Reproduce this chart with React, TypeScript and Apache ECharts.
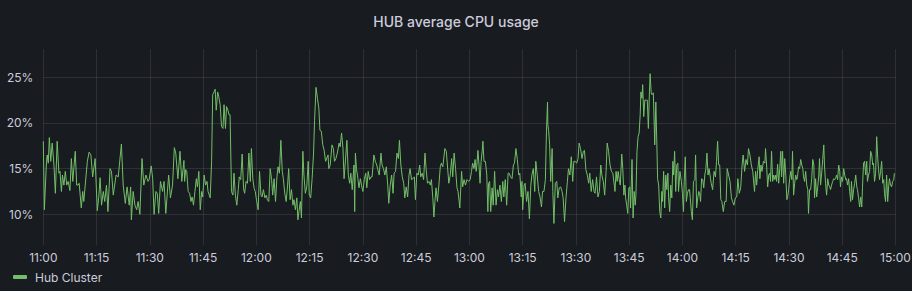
import React, { useEffect, useRef } from "react";
import * as echarts from "echarts";

const titleText = "HUB average CPU usage";
const seriesName = "Hub Cluster";
const timeLabels = ["11:00","11:15","11:30","11:45","12:00","12:15","12:30","12:45","13:00","13:15","13:30","13:45","14:00","14:15","14:30","14:45","15:00"];
const yTicks = [10, 15, 20, 25];

// [minutes after 11:00, CPU %]
const seg1100: number[][] = [[0,18.0],[0.3,10.5],[0.9,15.8],[1.1,16.5],[1.4,15.6],[1.7,18.4],[2.1,15.8],[2.5,17.8],[3.0,15.4],[3.4,12.3],[3.9,18.0],[4.4,14.5],[4.7,14.7],[5.1,12.5],[5.4,14.3],[5.8,13.2],[6.2,14.7],[6.6,13.2],[7.0,13.6],[7.5,12.6],[7.9,16.1],[8.3,13.6],[9.0,16.9],[9.4,13.2],[9.8,13.2],[10.1,13.4],[10.7,10.7],[11.1,12.5],[11.4,11.4],[12.4,15.8],[12.9,16.8],[13.4,16.5],[13.9,14.1],[14.6,16.1],[15.2,10.4],[15.6,11.8],[16.0,14.0],[16.4,11.0],[16.9,12.5],[17.3,11.4],[17.8,13.2],[18.2,10.3],[18.8,15.0],[19.2,14.7],[19.7,12.1],[20.5,14.3],[21.1,14.1],[22.0,17.7],[22.5,13.2],[23.1,11.2],[23.6,13.0],[24.2,11.0],[24.6,13.0],[24.8,9.4],[25.3,12.5],[25.8,11.0],[26.3,10.5],[26.7,11.4],[27.2,10.0],[27.8,16.1],[28.3,13.2],[28.9,14.3],[29.5,13.6],[29.8,13.8],[30.4,15.3],[30.8,13.9],[31.2,10.0],[31.7,12.5],[32.1,12.3],[32.5,10.1],[33.0,13.6],[33.6,12.5],[34.0,13.6],[34.5,10.1],[35.3,14.3],[35.8,11.8],[36.4,13.2],[36.9,17.3],[37.3,16.7],[37.9,13.9],[38.5,16.9],[39.0,13.6],[39.6,15.9]];

const seg1140: number[][] = [[39.8,13.6],[40.1,14.9],[40.4,14.7],[40.8,12.5],[41.2,12.3],[41.6,11.4],[41.9,11.9],[42.3,11.0],[42.7,12.5],[43.1,13.9],[43.4,13.0],[43.8,14.7],[44.2,10.5],[44.6,12.5],[44.9,11.9],[45.3,14.3],[45.7,13.2],[46.1,13.6],[46.4,12.5],[47.0,11.8],[47.4,15.8],[47.7,23.1],[48.1,23.4],[48.4,23.7],[48.7,21.4],[49.1,23.4],[49.4,22.9],[49.8,22.0],[50.2,19.6],[50.6,19.4],[50.9,22.0],[51.3,19.4],[51.6,21.8],[52.0,21.4],[52.3,20.9],[52.6,20.9],[53.0,12.5],[53.4,12.1],[53.7,14.5],[54.1,12.1],[54.5,11.0],[54.9,12.7],[55.2,14.1],[55.6,13.8],[56.0,16.6],[56.4,12.8],[56.7,12.3],[57.1,13.6],[57.5,13.4],[57.9,16.7],[58.3,13.6],[58.6,17.2],[59.0,13.9],[59.4,12.8],[59.7,12.5],[60.1,11.4],[60.5,10.5],[60.9,14.7],[61.3,12.1],[61.6,11.9],[62.0,12.7],[62.4,11.8],[62.8,12.1],[63.1,11.6],[63.5,11.4],[63.9,15.0],[64.3,13.8],[64.6,12.1],[65.0,13.9],[65.4,11.4],[65.8,14.1],[66.1,15.2],[66.5,14.5],[66.9,18.1],[67.3,14.7],[67.6,13.9],[68.0,12.3],[68.4,11.4],[68.8,13.2],[69.1,15.0],[69.5,11.6],[69.9,12.7],[70.3,11.0],[70.6,11.6],[71.0,10.5],[71.4,11.8],[71.7,9.4],[72.0,10.3],[72.4,11.4],[72.7,9.6],[73.1,16.9],[73.4,14.3],[73.8,12.3],[74.2,13.0],[74.6,15.8],[74.9,12.1],[75.3,11.8],[75.7,13.9],[76.1,16.6],[76.4,20.3],[76.8,23.9],[77.2,22.7],[77.6,21.6],[77.9,19.2],[78.3,19.1],[78.7,17.6],[79.1,17.0],[79.5,15.8]];

const seg1220: number[][] = [[80.2,16.5],[80.4,15.0],[80.8,15.4],[81.3,17.6],[81.7,17.2],[82.0,15.8],[82.4,16.1],[82.8,16.7],[83.3,17.8],[83.6,17.4],[84.0,18.9],[84.4,17.2],[84.7,13.9],[85.0,15.4],[85.5,18.1],[85.9,14.3],[86.3,13.4],[86.6,14.5],[87.0,12.7],[87.5,15.4],[87.7,10.3],[87.9,16.7],[88.2,15.0],[88.6,13.9],[88.9,12.9],[89.3,13.9],[89.6,13.2],[90.0,12.5],[90.4,13.8],[90.8,14.5],[91.1,12.9],[91.5,14.7],[91.9,13.8],[92.3,14.1],[92.6,14.1],[93.1,16.5],[93.5,15.8],[93.9,15.4],[94.2,14.9],[94.6,14.3],[95.1,16.7],[95.4,15.4],[95.8,15.0],[96.2,14.3],[96.6,15.2],[97.0,13.2],[97.3,11.2],[97.7,13.2],[98.1,14.3],[98.5,12.3],[98.8,14.5],[99.2,14.7],[99.6,16.7],[100.0,16.1],[100.3,18.1],[100.7,15.4],[101.1,14.1],[101.5,13.4],[101.8,11.8],[102.2,13.0],[102.6,11.9],[103.0,14.3],[103.3,15.0],[103.7,13.8],[104.1,13.9],[104.5,14.1],[104.8,11.6],[105.2,14.5],[105.6,14.3],[106.0,15.4],[106.3,14.1],[106.7,14.5],[107.1,13.8],[107.5,16.7],[107.8,15.0],[108.2,13.4],[108.6,13.6],[109.0,13.2],[109.3,13.8],[109.7,11.8],[110.0,9.7],[110.3,11.4],[110.6,12.9],[111.0,11.4],[111.4,13.2],[111.8,15.2],[112.1,15.6],[112.5,15.2],[113.1,17.2],[113.5,16.9],[113.8,15.4],[114.2,13.4],[114.6,14.3],[115.0,16.1],[115.3,14.1],[115.7,16.7],[116.1,15.0],[116.5,12.9],[116.8,12.5],[117.3,10.7],[117.8,14.7],[118.1,13.0],[118.5,13.8],[118.9,13.2],[119.3,13.8]];

const seg1300: number[][] = [[119.8,13.6],[120.2,13.8],[120.6,14.7],[120.9,15.6],[121.3,15.0],[121.6,16.0],[121.9,14.7],[122.1,15.4],[122.4,17.0],[122.7,15.4],[123.0,13.4],[123.3,15.8],[123.6,16.9],[123.8,18.0],[124.1,15.8],[124.5,15.8],[124.9,14.3],[125.2,10.3],[125.4,13.4],[125.7,13.6],[126.0,10.3],[126.4,12.9],[126.7,11.0],[127.1,14.7],[127.5,11.0],[127.9,12.7],[128.2,11.9],[128.6,13.2],[129.0,11.4],[129.4,13.6],[129.7,11.9],[130.1,13.8],[130.5,11.0],[130.9,14.5],[131.2,14.5],[131.6,14.1],[132.0,13.9],[132.4,15.4],[132.7,15.6],[133.1,17.2],[133.5,16.0],[133.9,14.3],[134.2,14.5],[134.6,11.9],[134.8,13.6],[135.0,10.5],[135.4,13.2],[135.7,13.4],[136.1,11.4],[136.5,12.5],[136.9,9.5],[137.3,13.2],[137.6,14.3],[138.0,15.0],[138.4,12.5],[138.7,15.8],[139.1,14.3],[139.5,12.5],[139.9,11.9],[140.3,10.8],[140.6,12.5],[141.0,12.5],[141.4,13.8],[141.7,19.1],[142.0,22.3],[142.1,19.8],[142.3,19.2],[142.6,17.6],[142.9,13.6],[143.3,17.2],[143.5,12.5],[143.8,9.0],[144.2,13.4],[144.6,13.6],[144.9,11.8],[145.3,12.9],[145.7,13.0],[146.1,12.5],[146.4,11.8],[146.8,9.2],[147.2,11.8],[147.6,13.6],[147.9,15.0],[148.3,14.3],[148.7,16.3],[149.1,13.6],[149.4,15.8],[149.8,15.8],[150.2,15.6],[150.6,16.1],[150.9,17.8],[151.3,17.2],[151.7,16.1],[152.1,16.9],[152.4,17.0],[152.8,14.9],[153.2,14.3],[153.6,13.4],[153.9,14.5],[154.3,12.5],[154.7,13.8],[155.1,12.5],[155.4,12.3],[155.8,14.1],[156.2,11.9],[156.6,12.5],[157.0,15.4],[157.3,14.3],[157.7,13.6],[158.1,12.1],[158.5,14.7],[158.8,17.8],[159.2,16.9],[159.6,15.4]];

const seg1340: number[][] = [[160.0,14.7],[160.4,14.5],[160.8,13.2],[161.0,12.5],[161.3,14.7],[161.6,13.6],[161.9,14.7],[162.2,13.8],[162.5,13.2],[162.9,16.6],[163.2,15.0],[163.5,12.1],[163.8,13.2],[164.0,11.8],[164.3,11.0],[164.6,10.1],[164.9,12.9],[165.2,13.0],[165.4,10.7],[165.8,16.0],[166.1,9.6],[166.4,12.5],[166.7,11.0],[166.9,12.1],[167.2,16.9],[167.5,18.5],[167.8,18.9],[168.1,20.9],[168.3,23.4],[168.6,22.7],[168.8,24.2],[169.1,20.7],[169.4,22.5],[169.8,22.5],[170.1,22.5],[170.4,19.4],[170.7,23.4],[170.9,25.4],[171.2,23.3],[171.4,23.1],[171.8,23.3],[172.2,17.6],[172.5,22.3],[172.8,17.6],[173.0,13.9],[173.3,13.2],[173.6,10.3],[173.9,9.6],[174.2,12.5],[174.4,11.4],[174.7,14.7],[175.0,10.7],[175.3,14.3],[175.6,12.7],[175.9,14.5],[176.1,11.8],[176.4,10.3],[176.7,13.2],[177.0,11.8],[177.3,15.8],[177.5,14.3],[177.8,16.9],[178.1,12.5],[178.4,15.4],[178.7,15.6],[178.9,12.5],[179.3,14.7],[179.7,13.6],[180.0,12.3],[180.3,10.3],[180.5,13.6],[180.8,16.3],[181.1,11.4],[181.4,12.3],[181.7,12.7],[182.0,12.7],[182.2,11.8],[182.5,10.3],[182.8,9.4],[183.1,13.6],[183.5,13.8],[183.7,16.5],[184.0,10.7],[184.3,11.8],[184.6,12.5],[184.9,12.1],[185.1,11.4],[185.4,13.9],[185.7,13.8],[186.0,12.9],[186.3,14.3],[186.6,15.0],[186.9,16.7],[187.2,14.3],[187.5,15.0],[187.9,13.9],[188.1,13.4],[188.5,12.7],[188.9,14.7],[189.3,14.1],[189.6,15.8],[189.9,18.0],[190.2,15.4],[190.5,15.4],[190.8,11.6],[191.1,11.4],[191.5,10.3],[191.9,11.4],[192.3,11.4],[192.6,15.0],[193.0,14.3],[193.4,13.6],[193.8,11.8],[194.1,11.4],[194.5,11.0],[194.9,11.8],[195.3,11.9],[195.6,13.9],[196.0,12.3],[196.4,12.9],[196.8,15.4],[197.1,16.5],[197.5,14.7],[197.9,16.0],[198.3,15.4],[198.6,17.2],[199.0,16.5],[199.4,15.4],[199.8,14.7]];

const seg1420: number[][] = [[200.3,12.5],[200.6,14.7],[200.9,13.2],[201.2,14.9],[201.6,16.3],[201.8,13.9],[202.1,15.4],[202.4,14.7],[202.8,15.8],[203.2,15.6],[203.4,17.2],[203.7,15.4],[204.0,13.0],[204.3,14.3],[204.6,14.5],[204.8,13.6],[205.1,16.9],[205.4,13.6],[205.7,14.3],[206.0,13.8],[206.3,14.3],[206.5,13.6],[206.8,15.5],[207.1,13.4],[207.4,15.0],[207.7,16.9],[207.9,14.1],[208.2,16.9],[208.5,13.4],[208.8,16.1],[209.1,14.3],[209.4,11.6],[209.6,11.8],[209.9,12.7],[210.2,13.9],[210.5,14.7],[210.8,13.8],[211.0,16.9],[211.3,12.1],[211.6,13.4],[211.9,14.3],[212.2,13.8],[212.4,14.1],[212.7,15.2],[213.0,15.0],[213.3,16.0],[213.6,15.4],[213.9,15.0],[214.1,14.1],[214.4,13.6],[214.7,14.7],[215.0,13.2],[215.3,12.7],[215.5,10.1],[215.8,12.7],[216.1,12.7],[216.4,13.9],[216.7,16.0],[217.0,15.4],[217.2,11.8],[217.5,13.9],[217.8,11.9],[218.1,13.0],[218.4,14.3],[218.6,16.1],[218.9,13.2],[219.2,14.5],[219.5,16.0],[219.8,17.6],[220.0,15.4],[220.3,13.4],[220.6,12.1],[220.9,13.9],[221.2,13.2],[221.5,13.0],[221.7,12.7],[222.0,13.2],[222.3,13.6],[222.6,13.9],[222.9,13.8],[223.1,13.9],[223.4,14.3],[223.7,13.8],[224.0,15.4],[224.3,14.7],[224.5,13.0],[224.8,14.1],[225.1,13.6],[225.4,15.0],[225.7,14.3],[226.0,13.8],[226.2,13.9],[226.5,13.2],[226.8,13.9],[227.1,12.5],[227.4,11.4],[227.6,13.6],[227.9,11.6],[228.2,12.7],[228.5,13.4],[228.8,14.3],[229.1,13.0],[229.3,12.7],[229.6,11.8],[229.9,10.8],[230.2,11.9],[230.5,10.8],[230.7,12.9],[231.0,15.6],[231.3,15.8],[231.6,14.3],[231.9,15.8],[232.1,13.6],[232.4,14.3],[232.7,14.7],[233.0,16.9],[233.3,16.5],[233.6,15.4],[233.8,15.6],[234.1,13.6],[234.4,14.5],[234.7,18.5],[235.0,16.1],[235.2,15.0],[235.5,13.8],[235.8,14.7],[236.1,15.8],[236.4,13.4],[236.7,13.8],[236.9,12.3],[237.2,11.4],[237.5,14.3],[237.8,11.4],[238.1,13.2],[238.3,13.9],[238.6,13.2],[238.9,13.0],[239.2,13.6],[239.5,13.8],[239.7,14.5]];

const cpuSeries = [...seg1100, ...seg1140, ...seg1220, ...seg1300, ...seg1340, ...seg1420];

const FONT = "Inter, 'Noto Sans', sans-serif";
const TEXT = "#ccccdc";
const GRID = "rgba(204,204,220,0.12)";
const GREEN = "#73bf69";

export default function App() {
  const ref = useRef<HTMLDivElement>(null);
  useEffect(() => {
    document.body.style.margin = "0";
    document.body.style.background = "#181b1f";
    const chart = echarts.init(ref.current!, undefined, { renderer: "svg" });
    chart.setOption({
      animation: false,
      backgroundColor: "#181b1f",
      textStyle: { fontFamily: FONT },
      title: {
        text: titleText,
        left: "center",
        top: 9,
        textStyle: { color: TEXT, fontSize: 14, fontWeight: 500, fontFamily: FONT },
      },
      grid: { left: 43.3, right: 16.5, top: 49, bottom: 46, outerBoundsMode: "none", containLabel: false },
      xAxis: {
        type: "value",
        min: 0,
        max: 240,
        interval: 15,
        axisLine: { show: false },
        axisTick: { show: false },
        axisLabel: {
          color: TEXT,
          fontSize: 12,
          fontFamily: FONT,
          margin: 6,
          hideOverlap: false,
          alignMinLabel: "center",
          alignMaxLabel: "center",
          formatter: (v: number) => timeLabels[Math.round(v / 15)] ?? "",
        },
        splitLine: { show: true, lineStyle: { color: GRID, width: 1 } },
      },
      yAxis: {
        type: "value",
        min: 6.64,
        max: 28.1,
        axisLine: { show: false },
        axisTick: { show: false, customValues: yTicks },
        axisLabel: {
          customValues: yTicks,
          color: TEXT,
          fontSize: 12,
          fontFamily: FONT,
          margin: 10,
          formatter: (v: number) => `${v}%`,
        },
        splitLine: { show: true, lineStyle: { color: GRID, width: 1 } },
      },
      legend: {
        data: [seriesName],
        left: 8,
        top: 266,
        icon: "roundRect",
        itemWidth: 14,
        itemHeight: 4,
        textStyle: { color: TEXT, fontSize: 12, fontFamily: FONT, padding: [0, 0, 0, 3] },
      },
      series: [
        {
          name: seriesName,
          type: "line",
          data: cpuSeries,
          showSymbol: false,
          symbol: "none",
          lineStyle: { color: GREEN, width: 1 },
          itemStyle: { color: GREEN },
        },
      ],
    });
    return () => chart.dispose();
  }, []);
  return <div ref={ref} style={{ width: 912, height: 291 }} />;
}
